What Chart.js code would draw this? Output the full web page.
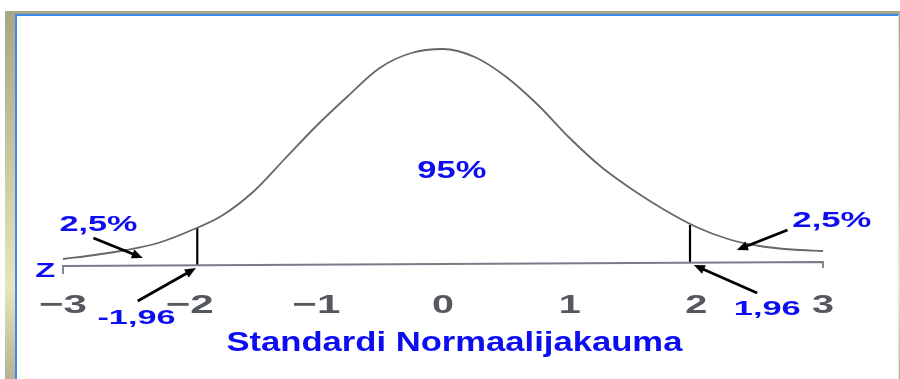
<!DOCTYPE html>
<html>
<head>
<meta charset="utf-8">
<script src="https://cdn.jsdelivr.net/npm/chart.js@4"></script>
<style>
  html, body { margin: 0; padding: 0; background: #fff; }
  body { width: 900px; height: 379px; position: relative; overflow: hidden; }
  #frame { position: absolute; left: 5px; top: 11px; right: 0; bottom: 0;
    background: linear-gradient(to bottom, #a7a686 0%, #c9c79e 40%, #e8e6b6 75%, #b4b294 100%); }
  #inner { position: absolute; left: 10px; top: 3px; right: 1px; bottom: 0;
    background: #fff; border-left: 2px solid #3d88f2; border-top: 2px solid #3d88f2;
    border-right: 1px solid #dfe6f2; }
  #myChart { position: absolute; left: 0; top: 0; }
</style>
</head>
<body>
<div id="frame"><div id="inner"></div></div>
<canvas id="myChart" width="900" height="379"></canvas>
<script>
// curve: z value and height above the axis
var zCurve = [-3, -2.75, -2.5, -2.25, -2, -1.75, -1.5, -1.25, -1, -0.75, -0.5, -0.25, 0, 0.25, 0.5, 0.75, 1, 1.25, 1.5, 1.75, 2, 2.25, 2.5, 2.75, 3];
var hCurve = [7, 11, 16, 23, 35, 50, 74, 107, 140, 170, 198, 213, 217, 209, 189, 161, 128, 99, 76, 56, 39, 27, 20, 16.5, 15];

// the z axis (slightly tilted in the scan) with end ticks
var axisZ = [-3, -3, 3, 3];
var axisH = [-8, 0, 4, -2];

// 1,96 cut-off lines
var cutLeftZ = [-1.94, -1.94];
var cutLeftH = [0.7, 38];
var cutRightZ = [1.95, 1.95];
var cutRightH = [3.3, 41];

var tickValues = [-3, -2, -1, 0, 1, 2, 3];
var tickLabels = ['\u22123', '\u22122', '\u22121', '0', '1', '2', '3'];

function pts(xs, ys) {
  return xs.map(function (x, i) { return { x: x, y: ys[i] }; });
}

var FONT = '"Liberation Sans", Arial, sans-serif';
var BLUE = '#0d0df2';

// annotations in data units: [text, z, h, font size, width in px]
var notes = [
  ['95%', 0.07, 94, 23, 69],
  ['2,5%', -2.72, 41, 22, 78],
  ['2,5%', 3.07, 45, 22, 79],
  ['Z', -3.14, -5, 20, 20],
  ['-1,96', -2.42, -52, 21, 78],
  ['1,96', 2.56, -43, 21, 67],
  ['Standardi Normaalijakauma', 0.09, -77, 28, 456]
];

// arrows: from (z,h) to (z,h)
var arrows = [
  [-2.76, 28, -2.37, 8],
  [-2.41, -35, -1.95, -2],
  [2.72, 36, 2.32, 16],
  [2.48, -27, 1.98, 1]
];

function stretchText(ctx, text, x, y, size, width, color) {
  ctx.save();
  ctx.font = 'bold ' + size + 'px ' + FONT;
  ctx.fillStyle = color;
  ctx.textAlign = 'center';
  ctx.textBaseline = 'middle';
  var w = ctx.measureText(text).width;
  ctx.translate(x, y);
  ctx.scale(width / w, 1);
  ctx.fillText(text, 0, 0);
  ctx.restore();
}

var extras = {
  id: 'extras',
  afterDatasetsDraw: function (chart) {
    var ctx = chart.ctx;
    var xs = chart.scales.x, ys = chart.scales.y;

    // tick labels
    tickValues.forEach(function (v, i) {
      var w = tickLabels[i].length > 1 ? 48 : 22;
      stretchText(ctx, tickLabels[i], xs.getPixelForValue(v), ys.getPixelForValue(-40), 26, w, '#55595f');
    });

    // arrows
    arrows.forEach(function (a) {
      var x1 = xs.getPixelForValue(a[0]), y1 = ys.getPixelForValue(a[1]);
      var x2 = xs.getPixelForValue(a[2]), y2 = ys.getPixelForValue(a[3]);
      var ang = Math.atan2(y2 - y1, x2 - x1);
      ctx.save();
      ctx.strokeStyle = '#000';
      ctx.fillStyle = '#000';
      ctx.lineWidth = 2.8;
      ctx.beginPath();
      ctx.moveTo(x1, y1);
      ctx.lineTo(x2 - 6 * Math.cos(ang), y2 - 6 * Math.sin(ang));
      ctx.stroke();
      ctx.beginPath();
      ctx.moveTo(x2, y2);
      ctx.lineTo(x2 - 12 * Math.cos(ang - 0.4), y2 - 12 * Math.sin(ang - 0.4));
      ctx.lineTo(x2 - 12 * Math.cos(ang + 0.4), y2 - 12 * Math.sin(ang + 0.4));
      ctx.closePath();
      ctx.fill();
      ctx.restore();
    });

    notes.forEach(function (n) {
      stretchText(ctx, n[0], xs.getPixelForValue(n[1]), ys.getPixelForValue(n[2]), n[3], n[4], BLUE);
    });
  }
};

var ctx = document.getElementById('myChart').getContext('2d');
var myChart = new Chart(ctx, {
  type: 'line',
  data: {
    datasets: [{
      label: 'curve',
      data: pts(zCurve, hCurve),
      borderColor: '#67676b',
      borderWidth: 1.8,
      cubicInterpolationMode: 'monotone',
      pointRadius: 0,
      clip: false
    }, {
      label: 'axis',
      data: pts(axisZ, axisH),
      borderColor: '#777c88',
      borderWidth: 1.8,
      pointRadius: 0,
      clip: false
    }, {
      label: 'cut left',
      data: pts(cutLeftZ, cutLeftH),
      borderColor: '#000',
      borderWidth: 2.2,
      pointRadius: 0,
      clip: false
    }, {
      label: 'cut right',
      data: pts(cutRightZ, cutRightH),
      borderColor: '#000',
      borderWidth: 2.2,
      pointRadius: 0,
      clip: false
    }]
  },
  options: {
    responsive: false,
    animation: false,
    devicePixelRatio: 1,
    layout: { padding: { left: 63, right: 77, top: 40, bottom: 113 } },
    scales: {
      x: { type: 'linear', min: -3, max: 3, display: false },
      y: { min: 0, max: 226, display: false }
    },
    plugins: {
      legend: { display: false },
      tooltip: { enabled: false }
    }
  },
  plugins: [extras]
});
</script>
</body>
</html>
